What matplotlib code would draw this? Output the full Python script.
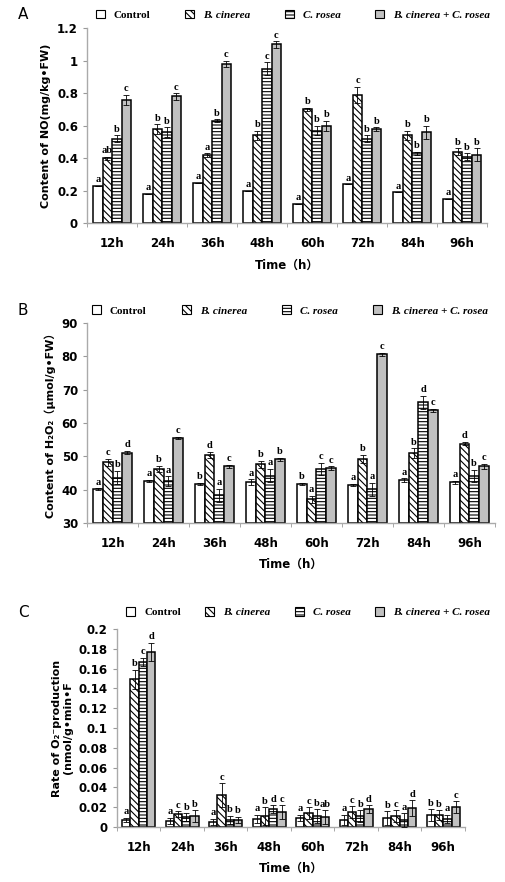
import numpy as np
import matplotlib
matplotlib.use("Agg")
import matplotlib.pyplot as plt
from matplotlib.patches import Patch

plt.rcParams['font.family'] = ['DejaVu Sans', 'Noto Sans CJK SC']
plt.rcParams['hatch.linewidth'] = 0.8

times = ["12h", "24h", "36h", "48h", "60h", "72h", "84h", "96h"]
groups = ["Control", "B. cinerea", "C. rosea", "B. cinerea + C. rosea"]

# A: NO content
no_means = [[0.23, 0.18, 0.25, 0.20, 0.12, 0.24, 0.19, 0.15],
            [0.40, 0.58, 0.42, 0.54, 0.70, 0.79, 0.54, 0.44],
            [0.52, 0.56, 0.63, 0.95, 0.57, 0.52, 0.43, 0.41],
            [0.76, 0.78, 0.98, 1.10, 0.60, 0.58, 0.56, 0.42]]
no_errs = [[0.0, 0.0, 0.0, 0.0, 0.0, 0.0, 0.0, 0.0],
           [0.01, 0.03, 0.01, 0.03, 0.01, 0.05, 0.03, 0.02],
           [0.02, 0.03, 0.01, 0.04, 0.03, 0.02, 0.01, 0.02],
           [0.03, 0.02, 0.02, 0.02, 0.03, 0.01, 0.04, 0.04]]
no_letters = [["a"] * 8,
              ["ab", "b", "a", "b", "b", "c", "b", "b"],
              ["b", "b", "b", "c", "b", "b", "b", "b"],
              ["c", "c", "c", "c", "b", "b", "b", "b"]]

# B: H2O2 content
h2o2_means = [[40.1, 42.7, 41.7, 42.3, 41.8, 41.4, 42.9, 42.2],
              [48.2, 46.2, 50.4, 47.6, 37.1, 49.2, 50.9, 53.8],
              [43.6, 42.5, 38.3, 44.2, 46.3, 40.1, 66.2, 44.1],
              [51.1, 55.6, 47.0, 49.1, 46.5, 80.6, 63.8, 47.0]]
h2o2_errs = [[0.3, 0.3, 0.3, 0.8, 0.3, 0.3, 0.5, 0.5],
             [1.0, 1.0, 1.0, 1.0, 1.0, 1.2, 1.5, 0.5],
             [2.0, 1.5, 2.0, 2.0, 1.8, 2.0, 2.0, 1.8],
             [0.5, 0.3, 0.5, 0.5, 0.5, 0.5, 0.5, 0.8]]
h2o2_letters = [["a", "a", "b", "a", "b", "a", "a", "a"],
                ["c", "b", "d", "b", "a", "b", "b", "d"],
                ["b", "a", "a", "a", "c", "a", "d", "b"],
                ["d", "c", "c", "b", "c", "c", "c", "c"]]

# C: O2- production rate
o2_means = [[0.007, 0.006, 0.005, 0.008, 0.009, 0.007, 0.009, 0.012],
            [0.149, 0.013, 0.032, 0.011, 0.014, 0.015, 0.011, 0.012],
            [0.167, 0.010, 0.007, 0.018, 0.011, 0.011, 0.007, 0.008],
            [0.177, 0.011, 0.007, 0.015, 0.010, 0.018, 0.019, 0.020]]
o2_errs = [[0.002, 0.003, 0.003, 0.004, 0.003, 0.005, 0.007, 0.006],
           [0.010, 0.003, 0.012, 0.009, 0.006, 0.006, 0.006, 0.005],
           [0.004, 0.004, 0.004, 0.004, 0.007, 0.006, 0.007, 0.004],
           [0.009, 0.006, 0.003, 0.007, 0.007, 0.004, 0.008, 0.006]]
o2_letters = [["a", "a", "a", "a", "a", "a", "b", "b"],
              ["b", "c", "c", "b", "c", "c", "c", "b"],
              ["c", "b", "b", "d", "b", "b", "a", "a"],
              ["d", "b", "b", "c", "ab", "d", "d", "c"]]

faces = ["white", "white", "white", "#c0c0c0"]
hatches = [None, "\\\\\\\\\\", "-----", None]
serif = "Liberation Serif"


def panel(fig, ax, means, errs, letters, ylim, yticks, ylabel, legbox):
    x = np.arange(len(times))
    w = 0.19
    span = ylim[1] - ylim[0]
    for i in range(4):
        xs = x + (i - 1.5) * w
        ax.bar(xs, np.array(means[i]) - ylim[0], w, bottom=ylim[0], color=faces[i],
               edgecolor="black", linewidth=1.1, hatch=hatches[i], zorder=2)
        ax.errorbar(xs, means[i], yerr=errs[i], fmt="none", ecolor="black",
                    elinewidth=0.6, capsize=2, capthick=0.6, zorder=3)
        for xi, m, e, t in zip(xs, means[i], errs[i], letters[i]):
            ax.text(xi, m + e + span * 0.008, t, ha="center", va="bottom",
                    fontsize=7.5, family=serif, fontweight="bold")
    ax.set_xlim(-0.5, len(times) - 0.5)
    ax.set_ylim(*ylim)
    ax.set_yticks(yticks)
    ax.set_yticklabels([f"{v:g}" for v in yticks], fontsize=8.5, fontweight="bold")
    ax.set_xticks(x)
    ax.set_xticklabels(times, fontsize=8.5, fontweight="bold")
    ax.set_xticks(np.arange(-0.5, len(times)), minor=True)
    ax.tick_params(axis="x", which="major", length=0, pad=10)
    ax.tick_params(axis="x", which="minor", length=3, color="#999999")
    ax.tick_params(axis="y", length=3, color="#999999")
    for s in ["top", "right"]:
        ax.spines[s].set_visible(False)
    for s in ["left", "bottom"]:
        ax.spines[s].set_color("#aaaaaa")
        ax.spines[s].set_linewidth(1.0)
    ax.set_ylabel(ylabel, fontsize=8, fontweight="bold", labelpad=4)
    ax.set_xlabel("Time（h）", fontsize=8.5, fontweight="bold", labelpad=6)

    handles = [Patch(facecolor=faces[i], edgecolor="black", hatch=hatches[i], linewidth=0.8)
               for i in range(4)]
    leg = fig.legend(handles, groups, loc="center left", bbox_to_anchor=legbox, ncol=4,
                     mode="expand", frameon=False, handlelength=0.8, handleheight=0.8,
                     handletextpad=0.8, borderaxespad=0, borderpad=0,
                     prop={"family": serif, "weight": "bold", "size": 8})
    for txt, g in zip(leg.get_texts(), groups):
        if g != "Control":
            txt.set_style("italic")
    return ax


fig = plt.figure(figsize=(5.06, 8.82), dpi=100)
axA = fig.add_axes([0.172, 0.747, 0.791, 0.221])
axB = fig.add_axes([0.172, 0.407, 0.806, 0.227])
axC = fig.add_axes([0.231, 0.0624, 0.688, 0.2245])

panel(fig, axA, no_means, no_errs, no_letters, (0, 1.2), np.arange(0, 1.21, 0.2),
      "Content of NO(mg/kg•FW)", (0.19, 0.983, 0.778, 0.0))
panel(fig, axB, h2o2_means, h2o2_errs, h2o2_letters, (30, 90), np.arange(30, 91, 10),
      "Content of H₂O₂（μmol/g•FW）", (0.182, 0.648, 0.782, 0.0))
panel(fig, axC, o2_means, o2_errs, o2_letters, (0, 0.2), np.round(np.arange(0, 0.201, 0.02), 2),
      "Rate of O₂⁻production\n(nmol/g•min•F", (0.25, 0.306, 0.718, 0.0))

fig.text(0.035, 0.983, "A", fontsize=11, va="center")
fig.text(0.035, 0.648, "B", fontsize=11, va="center")
fig.text(0.035, 0.306, "C", fontsize=11, va="center")

fig.savefig("out.png", dpi=100)
